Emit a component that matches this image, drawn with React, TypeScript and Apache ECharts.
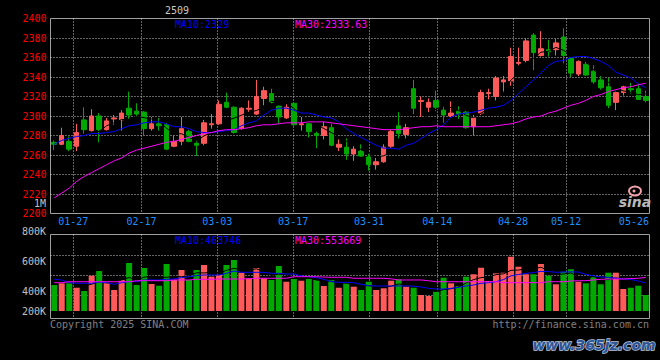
import React, { useEffect, useRef } from 'react';
import * as echarts from 'echarts';

// ---------- data ----------
const DATES = [
  '01-22', '01-23', '01-24', '01-27',
  '02-05', '02-06', '02-07', '02-10', '02-11', '02-12', '02-13', '02-14', '02-17', '02-18', '02-19', '02-20', '02-21',
  '02-24', '02-25', '02-26', '02-27', '02-28',
  '03-03', '03-04', '03-05', '03-06', '03-07', '03-10', '03-11', '03-12', '03-13', '03-14', '03-17', '03-18', '03-19',
  '03-20', '03-21', '03-24', '03-25', '03-26', '03-27', '03-28', '03-31',
  '04-01', '04-02', '04-03', '04-07', '04-08', '04-09', '04-10', '04-11', '04-14', '04-15', '04-16', '04-17', '04-18',
  '04-21', '04-22', '04-23', '04-24', '04-25', '04-28', '04-29', '04-30',
  '05-06', '05-07', '05-08', '05-09', '05-12', '05-13', '05-14', '05-15', '05-16', '05-19', '05-20', '05-21', '05-22',
  '05-23', '05-26', '05-27'
];

const OPEN = [
  2273, 2271, 2274, 2269, 2296, 2285, 2300, 2286, 2297, 2296,
  2308, 2305, 2304, 2287, 2292, 2291, 2269, 2274, 2284, 2272,
  2272, 2291, 2292, 2314, 2309, 2287, 2307, 2302, 2318, 2323,
  2310, 2298, 2313, 2291, 2292, 2282, 2280, 2288, 2268, 2268,
  2261, 2264, 2258, 2250, 2253, 2269, 2290, 2281, 2328, 2315,
  2309, 2316, 2306, 2300, 2305, 2304, 2289, 2303, 2323, 2320,
  2335, 2336, 2354, 2357, 2383, 2362, 2368, 2368, 2381, 2359,
  2343, 2353, 2346, 2337, 2330, 2314, 2324, 2328, 2328, 2320
];
const CLOSE = [
  2271, 2280, 2266, 2283, 2286, 2300, 2286, 2295, 2298, 2303,
  2301, 2302, 2287, 2292, 2290, 2266, 2274, 2287, 2274, 2270,
  2293, 2292, 2312, 2309, 2283, 2308, 2308, 2320, 2326, 2314,
  2299, 2309, 2291, 2292, 2284, 2280, 2289, 2270, 2271, 2261,
  2266, 2259, 2250, 2253, 2268, 2284, 2282, 2288, 2308, 2316,
  2314, 2309, 2301, 2303, 2302, 2288, 2298, 2324, 2324, 2339,
  2337, 2361, 2355, 2377, 2365, 2369, 2366, 2375, 2362, 2344,
  2356, 2342, 2335, 2329, 2311, 2324, 2330, 2327, 2317, 2316
];
const LOW = [
  2265, 2270, 2264, 2264, 2282, 2284, 2273, 2285, 2291, 2285,
  2297, 2299, 2280, 2285, 2285, 2265, 2268, 2270, 2273, 2259,
  2270, 2287, 2291, 2308, 2282, 2286, 2304, 2301, 2311, 2313,
  2292, 2297, 2290, 2285, 2278, 2267, 2276, 2269, 2264, 2255,
  2254, 2258, 2244, 2245, 2252, 2267, 2277, 2277, 2302, 2299,
  2304, 2305, 2293, 2298, 2297, 2287, 2280, 2301, 2317, 2316,
  2324, 2331, 2352, 2355, 2347, 2361, 2361, 2362, 2354, 2340,
  2341, 2341, 2333, 2327, 2308, 2306, 2321, 2323, 2317, 2314
];
const HIGH = [
  2275, 2288, 2279, 2292, 2309, 2307, 2303, 2298, 2301, 2306,
  2325, 2313, 2305, 2299, 2298, 2293, 2280, 2299, 2286, 2275,
  2296, 2302, 2316, 2324, 2310, 2309, 2316, 2337, 2330, 2328,
  2311, 2312, 2313, 2299, 2293, 2284, 2294, 2292, 2276, 2277,
  2269, 2271, 2262, 2257, 2271, 2286, 2304, 2292, 2337, 2320,
  2318, 2326, 2310, 2315, 2310, 2305, 2301, 2327, 2328, 2341,
  2341, 2370, 2370, 2380, 2385, 2387, 2378, 2379, 2390, 2360,
  2357, 2356, 2352, 2341, 2339, 2325, 2331, 2334, 2333, 2326
];

const MA10 = [
  2271, 2275, 2277, 2279, 2280, 2282, 2282, 2283, 2284, 2287,
  2290, 2291, 2293, 2294, 2294, 2292, 2289, 2289, 2287, 2284,
  2283, 2283, 2284, 2285, 2286, 2290, 2293, 2295, 2301, 2306,
  2308, 2308, 2306, 2303, 2303, 2301, 2299, 2298, 2294, 2287,
  2282, 2278, 2274, 2270, 2267, 2267, 2266, 2270, 2272, 2277,
  2282, 2286, 2291, 2299, 2302, 2303, 2304, 2306, 2308, 2309,
  2311, 2316, 2323, 2330, 2337, 2344, 2352, 2356, 2357, 2360,
  2361, 2361, 2359, 2356, 2352, 2345, 2342, 2339, 2333, 2329
];
const MA30 = [
  2216, 2221, 2226, 2233, 2238, 2242, 2246, 2250, 2254, 2257,
  2262, 2265, 2267, 2269, 2271, 2273, 2274, 2276, 2278, 2280,
  2282, 2283, 2285, 2286, 2286, 2287, 2288, 2290, 2291, 2291,
  2292, 2293, 2293, 2293, 2294, 2294, 2294, 2293, 2292, 2291,
  2290, 2289, 2288, 2287, 2286, 2286, 2286, 2287, 2288, 2289,
  2289, 2290, 2289, 2289, 2289, 2289, 2289, 2289, 2289, 2290,
  2291, 2292, 2294, 2297, 2299, 2300, 2303, 2305, 2308, 2311,
  2313, 2316, 2320, 2322, 2325, 2327, 2329, 2330, 2332, 2333.63
];

const VOLUME = [
  429000, 457000, 457000, 384000, 330000, 582000, 660000, 457000, 347000, 512000,
  792000, 429000, 710000, 446000, 417000, 776000, 512000, 677000, 512000, 677000,
  759000, 566000, 594000, 759000, 842000, 632000, 540000, 710000, 540000, 512000,
  743000, 483000, 528000, 500000, 528000, 512000, 413000, 512000, 384000, 467000,
  401000, 347000, 483000, 347000, 375000, 500000, 523000, 401000, 384000, 264000,
  248000, 318000, 549000, 457000, 413000, 566000, 606000, 714000, 495000, 622000,
  632000, 896000, 731000, 606000, 606000, 776000, 582000, 441000, 648000, 688000,
  483000, 457000, 566000, 441000, 632000, 632000, 363000, 384000, 417000, 264000
];
const VOL_MA10 = [
  523000, 512000, 467000, 457000, 457000, 457000, 479000, 467000, 440000, 467000,
  484000, 484000, 512000, 512000, 512000, 523000, 528000, 550000, 566000, 583000,
  594000, 594000, 594000, 622000, 660000, 638000, 638000, 638000, 638000, 622000,
  622000, 611000, 611000, 578000, 566000, 550000, 523000, 484000, 473000, 473000,
  467000, 440000, 418000, 413000, 413000, 413000, 413000, 413000, 410000, 396000,
  374000, 363000, 363000, 374000, 390000, 413000, 429000, 457000, 467000, 483000,
  518000, 580000, 603000, 620000, 635000, 653000, 652000, 638000, 643000, 646000,
  642000, 604000, 581000, 562000, 555000, 542000, 529000, 520000, 495000, 463746
];
const VOL_MA30 = [
  467000, 467000, 483000, 483000, 483000, 483000, 483000, 483000, 483000, 483000,
  483000, 500000, 500000, 500000, 500000, 500000, 512000, 512000, 512000, 523000,
  523000, 523000, 528000, 528000, 528000, 528000, 533000, 540000, 540000, 540000,
  540000, 540000, 566000, 566000, 566000, 566000, 560000, 556000, 556000, 556000,
  540000, 540000, 540000, 540000, 540000, 530000, 512000, 512000, 512000, 512000,
  500000, 483000, 483000, 483000, 483000, 483000, 483000, 483000, 483000, 483000,
  467000, 467000, 467000, 467000, 467000, 467000, 483000, 483000, 483000, 495000,
  500000, 500000, 512000, 523000, 528000, 528000, 528000, 535000, 540000, 553669
];

const LABEL_DATES = ['01-27', '02-17', '03-03', '03-17', '03-31', '04-14', '04-28', '05-12', '05-26'];
const SPLIT_DATES = ['01-27', '02-17', '03-03', '03-17', '03-31', '04-14', '04-28', '05-12'];
const VOL_TICK_LABELS = ['800K', '600K', '400K', '200K'];
const PERIOD_LABEL = '1M';
const TITLE = '2509';
const PRICE_MA_LABELS = ['MA10:2329', 'MA30:2333.63'];
const VOL_MA_LABELS = ['MA10:463746', 'MA30:553669'];

// ---------- style ----------
const RED = '#ff5a5a';
const GREEN = '#00a800';
const BLUE = '#0000ff';
const MAGENTA = '#ff00ff';
const FRAME = '#a0a0a0';
const DOT = '#c8c8c8';
const MONO = '"DejaVu Sans Mono", monospace';
const FONT = '10px ' + MONO;

function movingAverage(values: number[], n: number): (number | null)[] {
  return values.map((_, i) => {
    if (i < n - 1) return null;
    let s = 0;
    for (let k = i - n + 1; k <= i; k++) s += values[k];
    return +(s / n).toFixed(2);
  });
}

function textEl(text: string, x: number, y: number, fill: string, align: string = 'left', font: string = FONT, lineHeight: number = 10) {
  return {
    type: 'text',
    x,
    y,
    silent: true,
    z: 100,
    style: {
      text,
      fill,
      font,
      lineHeight,
      align,
      textAlign: align,
      verticalAlign: 'middle',
      textVerticalAlign: 'middle'
    }
  };
}

export default function App() {
  const ref = useRef<HTMLDivElement>(null);

  useEffect(() => {
    if (!ref.current) return;
    const chart = echarts.init(ref.current, undefined, { renderer: 'svg' });

    const candles = DATES.map((_, i) => [OPEN[i], CLOSE[i], LOW[i], HIGH[i]]);
    const ma5 = movingAverage(CLOSE, 5);
    const volMa5 = movingAverage(VOLUME, 5);

    const dotted = { color: DOT, width: 1, type: [1, 2] as any };
    const gridBox = { left: 50.5, width: 599 };

    const option: any = {
      animation: false,
      backgroundColor: '#000000',
      textStyle: { fontFamily: MONO },
      grid: [
        { ...gridBox, top: 18.5, height: 195, show: true, borderColor: FRAME, borderWidth: 1, backgroundColor: 'transparent' },
        { ...gridBox, top: 235.5, height: 80, show: false },
        { ...gridBox, top: 234.5, height: 84, show: true, borderColor: FRAME, borderWidth: 1, backgroundColor: 'transparent' }
      ],
      xAxis: [
        {
          type: 'category', gridIndex: 0, data: DATES, boundaryGap: true, position: 'bottom',
          axisLine: { show: false }, axisTick: { show: false }, axisLabel: { show: false }, splitLine: { show: false }
        },
        {
          type: 'category', gridIndex: 0, data: DATES, boundaryGap: false, position: 'bottom',
          axisLine: { show: false }, axisTick: { show: false },
          axisLabel: {
            show: true,
            interval: (_i: number, v: string) => LABEL_DATES.includes(v),
            color: '#1e8fff',
            fontFamily: MONO,
            fontSize: 10,
            margin: 3,
            formatter: (v: string) => (v === LABEL_DATES[LABEL_DATES.length - 1] ? '{r|' + v + '}' : v),
            rich: { r: { color: '#1e8fff', fontFamily: MONO, fontSize: 10, padding: [0, 16, 0, 0] } }
          },
          splitLine: { show: true, interval: (_i: number, v: string) => SPLIT_DATES.includes(v), lineStyle: dotted }
        },
        {
          type: 'category', gridIndex: 1, data: DATES, boundaryGap: true, position: 'bottom',
          axisLine: { show: false }, axisTick: { show: false }, axisLabel: { show: false }, splitLine: { show: false }
        },
        {
          type: 'category', gridIndex: 2, data: DATES, boundaryGap: false, position: 'bottom',
          axisLine: { show: false }, axisTick: { show: false }, axisLabel: { show: false },
          splitLine: { show: true, interval: (_i: number, v: string) => SPLIT_DATES.includes(v), lineStyle: dotted }
        }
      ],
      yAxis: [
        {
          type: 'value', gridIndex: 0, min: 2200, max: 2400, interval: 20, position: 'left',
          axisLine: { show: false }, axisTick: { show: false },
          axisLabel: {
            color: '#ff0000', fontFamily: MONO, fontSize: 10, lineHeight: 9, margin: 4,
            formatter: (v: number) => String(v)
          },
          splitLine: { show: true, showMinLine: false, showMaxLine: false, lineStyle: dotted }
        },
        {
          type: 'value', gridIndex: 1, min: -74250, max: 1245750, interval: 330000, position: 'left',
          axisLine: { show: false }, axisTick: { show: false }, axisLabel: { show: false },
          splitLine: { show: true, showMinLine: false, showMaxLine: false, lineStyle: dotted }
        },
        {
          type: 'value', gridIndex: 2, min: 0, max: 1, show: false,
          axisLine: { show: false }, axisTick: { show: false }, axisLabel: { show: false }, splitLine: { show: false }
        }
      ],
      series: [
        {
          type: 'candlestick', name: 'K', xAxisIndex: 0, yAxisIndex: 0, data: candles, barWidth: 5,
          itemStyle: { color: RED, color0: GREEN, borderColor: RED, borderColor0: GREEN, borderWidth: 1 }
        },
        { type: 'line', name: 'MA5', xAxisIndex: 0, yAxisIndex: 0, data: ma5, symbol: 'none', lineStyle: { color: '#000000', width: 1 } },
        { type: 'line', name: 'MA10', xAxisIndex: 0, yAxisIndex: 0, data: MA10, symbol: 'none', lineStyle: { color: BLUE, width: 1 } },
        { type: 'line', name: 'MA30', xAxisIndex: 0, yAxisIndex: 0, data: MA30, symbol: 'none', lineStyle: { color: MAGENTA, width: 1 } },
        {
          type: 'bar', name: 'VOL', xAxisIndex: 2, yAxisIndex: 1, data: VOLUME, barWidth: 6,
          itemStyle: { color: (p: any) => (CLOSE[p.dataIndex] >= OPEN[p.dataIndex] ? RED : GREEN) }
        },
        { type: 'line', name: 'VMA5', xAxisIndex: 2, yAxisIndex: 1, data: volMa5, symbol: 'none', lineStyle: { color: '#000000', width: 1 } },
        { type: 'line', name: 'VMA10', xAxisIndex: 2, yAxisIndex: 1, data: VOL_MA10, symbol: 'none', lineStyle: { color: BLUE, width: 1 } },
        { type: 'line', name: 'VMA30', xAxisIndex: 2, yAxisIndex: 1, data: VOL_MA30, symbol: 'none', lineStyle: { color: MAGENTA, width: 1 } }
      ],
      graphic: [
        textEl(TITLE, 165, 10, '#c8c8c8'),
        textEl(PRICE_MA_LABELS[0], 175, 24, BLUE),
        textEl(PRICE_MA_LABELS[1], 295, 24, MAGENTA),
        textEl(PERIOD_LABEL, 46, 203.5, '#c0c0c0', 'right', FONT, 8),
        textEl(VOL_TICK_LABELS[0], 46, 231, '#c0c0c0', 'right'),
        textEl(VOL_TICK_LABELS[1], 46, 261, '#c0c0c0', 'right'),
        textEl(VOL_TICK_LABELS[2], 46, 291, '#c0c0c0', 'right'),
        textEl(VOL_TICK_LABELS[3], 46, 311, '#c0c0c0', 'right'),
        textEl(VOL_MA_LABELS[0], 175, 240, BLUE),
        textEl(VOL_MA_LABELS[1], 295, 240, MAGENTA),
        textEl('Copyright 2025 SINA.COM', 50, 324, '#808080'),
        textEl('http://finance.sina.com.cn', 649, 324, '#808080', 'right'),
        {
          type: 'ellipse', silent: true, z: 100,
          shape: { cx: 635, cy: 191, rx: 6, ry: 4.5 },
          style: { fill: 'none', stroke: '#f2a2aa', lineWidth: 2 }
        },
        {
          type: 'circle', silent: true, z: 100,
          shape: { cx: 634, cy: 191, r: 1.5 },
          style: { fill: '#f2a2aa' }
        },
        textEl('sina', 635, 202, '#b8b8b8', 'center', 'italic bold 14px "DejaVu Sans", sans-serif', 14),
        {
          type: 'text', x: 594, y: 345, silent: true, z: 100,
          style: {
            text: 'www.365jz.com',
            font: 'italic bold 14px "DejaVu Sans", sans-serif',
            fill: '#2f5597',
            stroke: '#b8c4d8',
            lineWidth: 1.5,
            align: 'center', textAlign: 'center',
            verticalAlign: 'middle', textVerticalAlign: 'middle'
          }
        }
      ]
    };

    chart.setOption(option);
    return () => chart.dispose();
  }, []);

  return (
    <div
      ref={ref}
      style={{ position: 'fixed', left: 0, top: 0, width: 660, height: 360, background: '#000' }}
    />
  );
}
